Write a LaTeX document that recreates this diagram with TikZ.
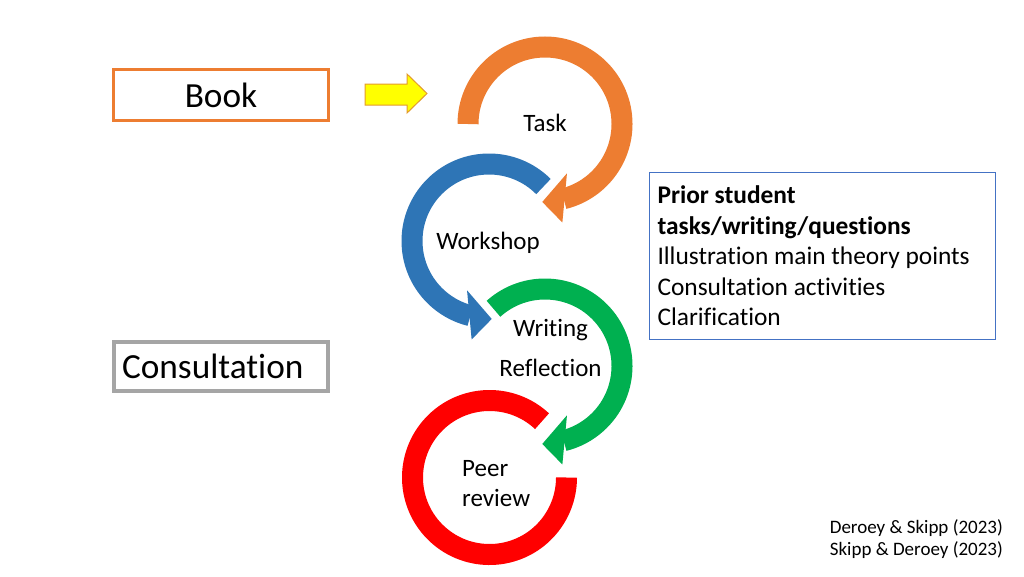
\documentclass[tikz,border=0pt]{standalone}
\usepackage{fontspec}
\setmainfont{Carlito}[Ligatures=NoCommon]
\usepackage{tikz}
\usetikzlibrary{calc}
\definecolor{taskO}{HTML}{ED7D31}
\definecolor{shopB}{HTML}{2E75B6}
\definecolor{writeG}{HTML}{00B050}
\definecolor{peerR}{HTML}{FF0000}
\definecolor{notesB}{HTML}{4472C4}
\definecolor{consGray}{HTML}{A5A5A5}
\definecolor{pushY}{HTML}{FFFF00}
\definecolor{pushEdge}{HTML}{E39B2D}

\begin{document}
\begin{tikzpicture}[x=1pt,y=1pt,
  ring/.style={line width=21pt},
  lbl/.style={inner sep=0pt,font=\fontsize{25}{30}\selectfont},
  bookbox/.style={draw=taskO,line width=3pt,minimum width=215pt,minimum height=51pt,font=\fontsize{35.3}{40}\selectfont},
  consbox/.style={draw=consGray,line width=4pt,minimum height=49pt,text width=198pt,inner xsep=8pt,align=left,font=\fontsize{35.3}{40}\selectfont},
  notebox/.style={draw=notesB,line width=1pt,minimum height=167pt,text width=329pt,inner xsep=8.5pt,align=left,font=\fontsize{25.4}{30.5}\selectfont}]
\fill[white] (0,0) rectangle (1024,-576);
\useasboundingbox (0,0) rectangle (1024,-576);

\coordinate (task) at (545,-124);
\coordinate (shop) at (489,-241);
\coordinate (write) at (545,-366);
\coordinate (peer) at (489.5,-477.5);

\draw[ring,taskO] ($(task)+(180:77)$) arc[start angle=180,end angle=-76,radius=77];
\fill[taskO] ($(task)+(-66:54)$) -- ($(task)+(-92:78)$) -- ($(task)+(-80:100)$) -- cycle;
\draw[ring,shopB] ($(shop)+(45:77)$) arc[start angle=45,end angle=256,radius=77];
\fill[shopB] ($(shop)+(246:54)$) -- ($(shop)+(272:78)$) -- ($(shop)+(260:100)$) -- cycle;
\draw[ring,writeG] ($(write)+(132:77)$) arc[start angle=132,end angle=-76,radius=77];
\fill[writeG] ($(write)+(-66:54)$) -- ($(write)+(-92:78)$) -- ($(write)+(-80:100)$) -- cycle;
\draw[ring,peerR] ($(peer)+(47:77)$) arc[start angle=47,end angle=360,radius=77];

\draw[draw=pushEdge,fill=pushY,line width=1pt] (365,-84) -- (407,-84) -- (407,-74) -- (427,-93.5) -- (407,-113) -- (407,-105) -- (365,-105) -- cycle;

\node[bookbox] (book) at (221,-95){Book};
\node[consbox] (cons) at (221,-366.5){Consultation};
\node[notebox] (notes) at (822,-256){\spaceskip=0pt\textbf{Prior student}\\\textbf{tasks/writing/questions}\\Illustration main theory points\\Consultation activities\\Clarification};

\node[lbl] (tasklbl) at (545,-123){Task};
\node[lbl] (shoplbl) at (488,-243){Workshop};
\node[lbl] (writelbl) at (550.5,-330){Writing};
\node[lbl] (refllbl) at (550.5,-367.5){Reflection};
\node[lbl,anchor=west,align=left] (peerlbl) at (462,-484){Peer\\review};

\node[inner sep=0pt,anchor=east,align=right,font=\fontsize{19}{22}\selectfont] (cite) at (1003,-539.5){Deroey \& Skipp (2023)\\Skipp \& Deroey (2023)};
\end{tikzpicture}
\end{document}
